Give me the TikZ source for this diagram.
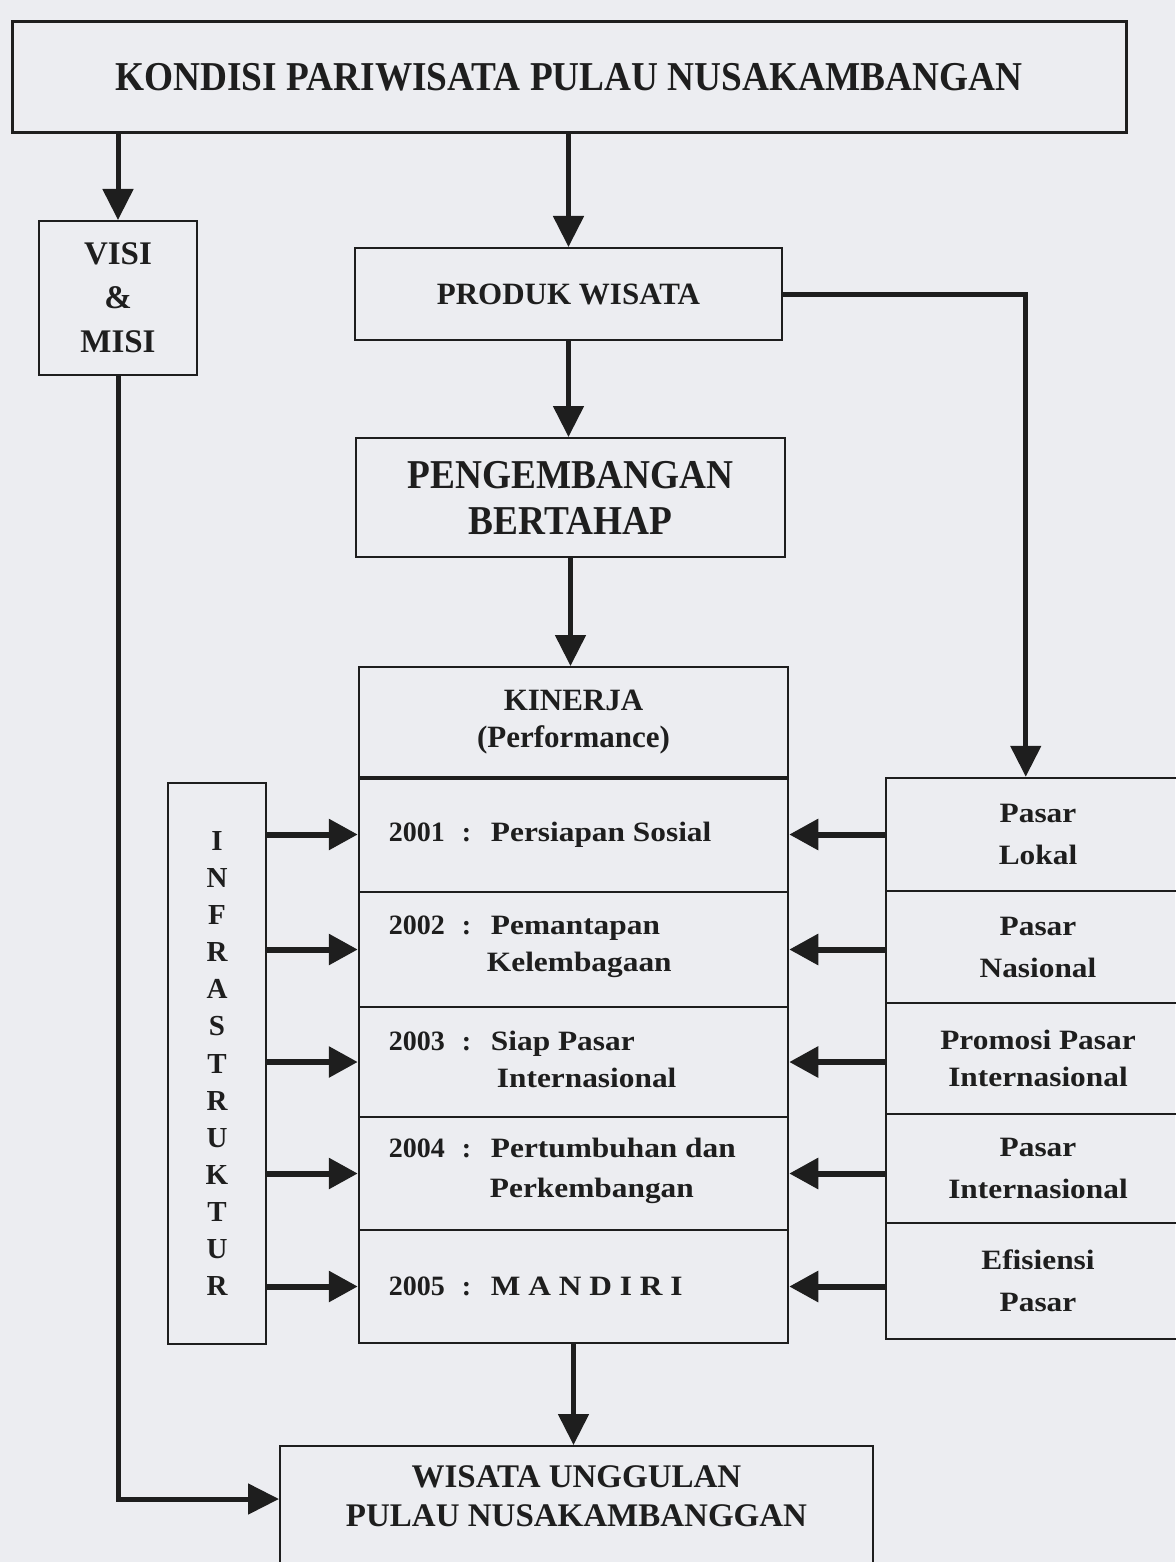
\documentclass[tikz,border=0pt]{standalone}
\usepackage{fontspec}
\setmainfont{Liberation Serif}
\newfontfamily\condfont{Liberation Serif}[FakeStretch=0.91]
\newfontfamily\widefont{Liberation Serif}[FakeStretch=1.12]
\usepackage{xcolor}
\usepackage{tikz}
\usetikzlibrary{arrows.meta,positioning}
\definecolor{paper}{RGB}{236,237,241}
\definecolor{ink}{RGB}{30,30,30}
\newcommand{\tahun}[1]{\makebox[73pt][l]{#1}\makebox[29pt][l]{:}}

\begin{document}
\begin{tikzpicture}[
  x=1pt, y=-1pt,
  box/.style={draw=ink, line width=2pt, inner sep=0pt, align=center, text=ink,
    font=\bfseries\fontsize{31}{37}\selectfont},
  bigbox/.style={box, font=\condfont\bfseries\fontsize{41}{46}\selectfont},
  rowbox/.style={draw=ink, line width=2.5pt, inner sep=0pt, minimum width=429pt},
  pasar/.style={rowbox, minimum width=304pt, align=center, text=ink,
    font=\widefont\bfseries\fontsize{28}{42}\selectfont},
  label/.style={anchor=west, inner sep=0pt, align=left, text=ink,
    font=\bfseries\fontsize{28}{37}\selectfont},
  flow/.style={draw=ink, -{Triangle[length=31pt,width=30pt]}, line width=5pt},
  fat/.style={draw=ink, -{Triangle[length=29pt,width=30pt]}, line width=6pt}
]
\useasboundingbox (0,0) rectangle (1175,1562);
\fill[paper] (0,0) rectangle (1175,1562);

% main column
\node[bigbox, line width=3pt, minimum width=1114pt, minimum height=111pt] (a) at (569,77.5) {KONDISI PARIWISATA PULAU NUSAKAMBANGAN};
\node[box, font=\bfseries\fontsize{33}{44}\selectfont, minimum width=158pt, minimum height=154pt] (v) at (118,298) {VISI\\\&\\MISI};
\node[box, minimum width=427pt, minimum height=92pt] (b) at (568.5,294) {PRODUK WISATA};
\node[bigbox, minimum width=429pt, minimum height=119pt] (c) at (570.5,497.5) {PENGEMBANGAN\\BERTAHAP};
\node[box, minimum width=429pt, minimum height=110pt] (d) at (573.5,722) {KINERJA\\(Performance)};

% tahapan
\node[rowbox, minimum height=115pt] (r1) at (573.5,834.5) {};
\node[rowbox, minimum height=115pt] (r2) at (573.5,949.5) {};
\node[rowbox, minimum height=110pt] (r3) at (573.5,1062) {};
\node[rowbox, minimum height=113pt] (r4) at (573.5,1173.5) {};
\node[rowbox, minimum height=113pt] (r5) at (573.5,1286.5) {};
\draw[ink, line width=4pt] (d.south west) -- (d.south east);
\node[label] (t1) at ([xshift=31pt]r1.west) {\tahun{2001}{\widefont Persiapan Sosial}};
\node[label] (t2) at ([xshift=31pt,yshift=3pt]r2.west) {\tahun{2002}{\widefont Pemantapan}\\\hspace*{98pt}{\widefont Kelembagaan}};
\node[label] (t3) at ([xshift=31pt,yshift=3pt]r3.west) {\tahun{2003}{\widefont Siap Pasar}\\\hspace*{108pt}{\widefont Internasional}};
\node[label] (t4) at ([xshift=31pt,yshift=3pt]r4.west) {\tahun{2004}{\widefont Pertumbuhan dan}\\[3pt]\hspace*{101pt}{\widefont Perkembangan}};
\node[label] (t5) at ([xshift=31pt]r5.west) {\tahun{2005}{\widefont M A N D I R I}};

% infrastruktur dan pasar
\node[box, font=\bfseries\fontsize{29}{37.1}\selectfont, minimum width=98pt, minimum height=561pt] (i) at (217,1063.5) {I\\N\\F\\R\\A\\S\\T\\R\\U\\K\\T\\U\\R};
\node[pasar, minimum height=113pt] (p1) at (1038,834.5) {Pasar\\Lokal};
\node[pasar, minimum height=112pt] (p2) at (1038,947) {Pasar\\Nasional};
\node[pasar, minimum height=111pt] (p3) at (1038,1058.5) {Promosi Pasar\\[-5pt]Internasional};
\node[pasar, minimum height=109pt] (p4) at (1038,1168.5) {Pasar\\Internasional};
\node[pasar, minimum height=116pt] (p5) at (1038,1281) {Efisiensi\\Pasar};

\node[box, minimum width=593pt, minimum height=154pt] (w) at (576.5,1523) {};
\node[box, draw=none, font=\bfseries\fontsize{33}{39}\selectfont] (wt) at ([yshift=-51.5pt]w.north) {WISATA UNGGULAN\\PULAU NUSAKAMBANGGAN};

\draw[flow] (a.south -| v.north) -- (v.north);
\draw[flow] (a.south -| b.north) -- (b.north);
\draw[flow] (b.south) -- (b.south |- c.north);
\draw[flow] (c.south) -- (c.south |- d.north);
\draw[flow] (r5.south) -- (r5.south |- w.north);
\draw[flow] (b.east) -| ([xshift=141pt]p1.north west);
\draw[flow] (v.south) |- ([yshift=-54pt]w.north west);

\draw[fat] (i.east |- r1.west) -- (r1.west);
\draw[fat] (i.east |- r2.west) -- (r2.west);
\draw[fat] (i.east |- r3.west) -- (r3.west);
\draw[fat] (i.east |- r4.west) -- (r4.west);
\draw[fat] (i.east |- r5.west) -- (r5.west);
\draw[fat] (p1.west |- r1.east) -- (r1.east);
\draw[fat] (p2.west |- r2.east) -- (r2.east);
\draw[fat] (p3.west |- r3.east) -- (r3.east);
\draw[fat] (p4.west |- r4.east) -- (r4.east);
\draw[fat] (p5.west |- r5.east) -- (r5.east);
\end{tikzpicture}
\end{document}
